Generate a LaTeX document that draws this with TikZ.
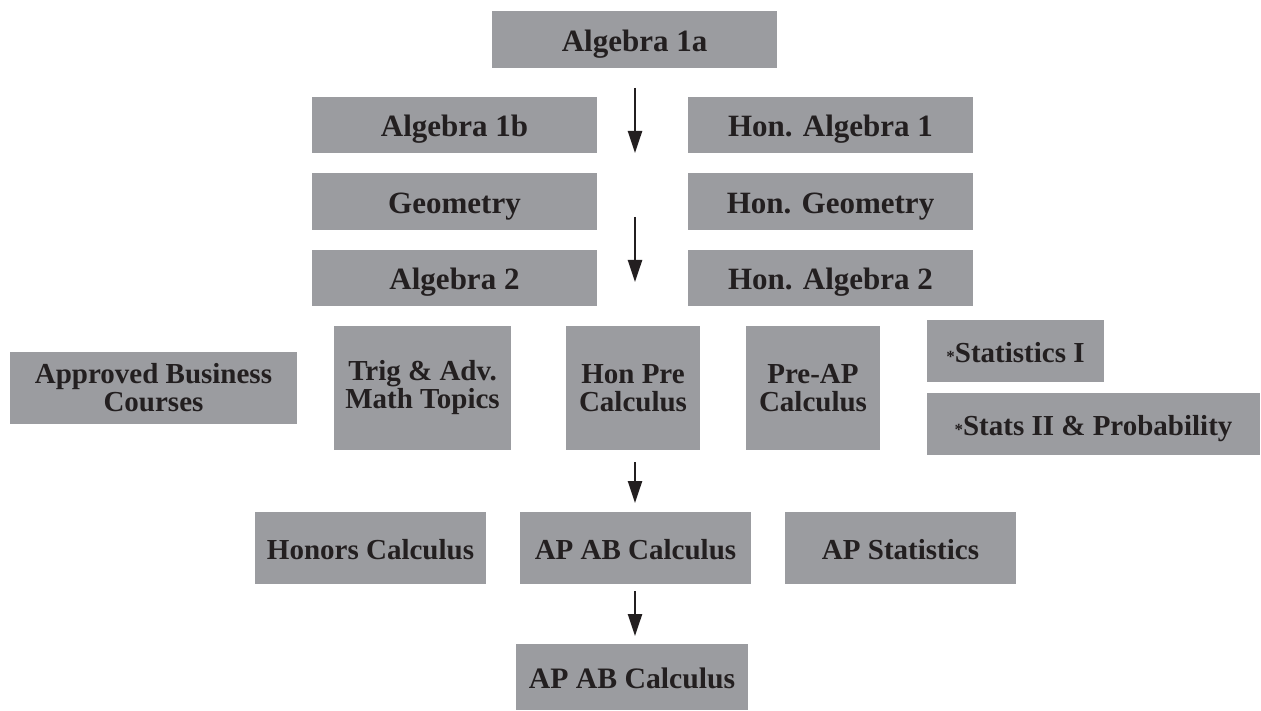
\documentclass[tikz,border=0pt]{standalone}
\usepackage{fontspec}
\setmainfont{Liberation Serif}
\usepackage{tikz}
\usetikzlibrary{arrows.meta}

\definecolor{boxgray}{RGB}{155,156,160}
\definecolor{inkblack}{RGB}{35,31,32}

\newcommand{\electmark}{{\fontsize{17}{17}\selectfont *}}

\tikzset{
    course/.style={fill=boxgray, text=inkblack, inner sep=0pt, outer sep=0pt,
        font=\fontsize{29}{28}\selectfont\bfseries, align=center},
    bigcourse/.style={course, font=\fontsize{31}{28}\selectfont\bfseries},
    oneline/.style={text height=30pt, text depth=6.5pt},
    next/.style={inkblack, line width=2.4pt, -{Triangle[length=22pt,width=14pt]}}
}

\begin{document}
\begin{tikzpicture}[x=1pt,y=-1pt]
    \useasboundingbox (0,0) rectangle (1261,711);

    % top row
    \node[bigcourse,oneline,minimum width=285,minimum height=57] (alga) at (634.5,39.5) {Algebra 1a};

    % left and honors columns
    \node[bigcourse,oneline,minimum width=285,minimum height=56] (algb) at (454.5,125) {Algebra 1b};
    \node[bigcourse,oneline,minimum width=285,minimum height=56] (honalga) at (830.5,125) {Hon. Algebra 1};
    \node[bigcourse,oneline,minimum width=285,minimum height=57] (geo) at (454.5,201.5) {Geometry};
    \node[bigcourse,oneline,minimum width=285,minimum height=57] (hongeo) at (830.5,201.5) {Hon. Geometry};
    \node[bigcourse,oneline,minimum width=285,minimum height=56] (algc) at (454.5,278) {Algebra 2};
    \node[bigcourse,oneline,minimum width=285,minimum height=56] (honalgc) at (830.5,278) {Hon. Algebra 2};

    % middle row
    \node[course,minimum width=287,minimum height=72] (business) at (153.5,388) {Approved Business\\Courses};
    \node[course,minimum width=177,minimum height=124] (trig) at (422.5,388) {Trig \& Adv.\\Math Topics};
    \node[course,minimum width=134,minimum height=124] (honpre) at (633,388) {Hon Pre\\Calculus};
    \node[course,minimum width=134,minimum height=124] (preap) at (813,388) {Pre-AP\\Calculus};
    \node[course,oneline,minimum width=177,minimum height=62] (statsa) at (1015.5,351) {\electmark Statistics I};
    \node[course,oneline,minimum width=333,minimum height=62] (statsb) at (1093.5,424) {\electmark Stats II \& Probability};

    % AP row
    \node[course,oneline,minimum width=231,minimum height=72] (honcalc) at (370.5,548) {Honors Calculus};
    \node[course,oneline,minimum width=231,minimum height=72] (apab) at (635.5,548) {AP AB Calculus};
    \node[course,oneline,minimum width=231,minimum height=72] (apstat) at (900.5,548) {AP Statistics};

    % last course
    \node[course,oneline,font=\fontsize{29.7}{28}\selectfont\bfseries,minimum width=232,minimum height=66] (apabb) at (632,677) {AP AB Calculus};

    % arrows between the rows
    \coordinate (a1) at (635,88);
    \coordinate (b1) at (635,153);
    \coordinate (a2) at (635,217);
    \coordinate (b2) at (635,282);
    \coordinate (a3) at (635,462);
    \coordinate (b3) at (635,503);
    \coordinate (a4) at (635,591);
    \coordinate (b4) at (635,636);
    \draw[next] (a1) -- (b1);
    \draw[next] (a2) -- (b2);
    \draw[next] (a3) -- (b3);
    \draw[next] (a4) -- (b4);
\end{tikzpicture}
\end{document}
